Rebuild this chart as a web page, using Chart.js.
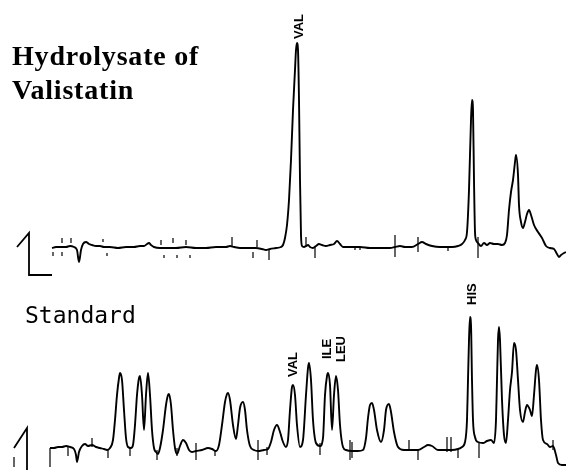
<!DOCTYPE html>
<html>
<head>
<meta charset="utf-8">
<script src="https://cdn.jsdelivr.net/npm/chart.js@4/dist/chart.umd.min.js"></script>
<style>
html,body{margin:0;padding:0;background:#fff;}
#wrap{width:566px;height:470px;position:relative;}
</style>
</head>
<body>
<div id="wrap"><canvas id="c" width="566" height="470"></canvas></div>
<script>
// ---- Data (retention time units, detector response units) ----
const topTime = [52,56,62,66,70,74,77,79,81,83,86,89,92,96,100,104,110,118,126,134,140,144,147,149,151,154,160,168,176,186,196,206,216,226,230,234,240,248,256,262,266,270,276,281,283,285,287,289,291,293,295,296,297,298,299,300,301,302,304,306,308,310,313,316,319,322,326,330,334,337,340,343,350,360,370,380,390,395,400,405,412,418,422,426,432,440,446,452,458,462,465,467,469,471,472,473,474,475,476,478,481,484,487,490,494,498,502,505,507,509,511,513,515,516,518,519,521,523,525,527,529,531,534,538,542,546,550,554,557,559,561,564,566];
const topSignal = [222,223,223,223,224,223,220,208,220,226,228,226,225,224,224,223,223,222,223,223,224,224,226,227,225,223,222,222,222,223,222,222,223,223,224,223,222,222,222,221,220,221,222,223,225,232,245,270,310,360,400,420,427,420,370,290,235,224,223,224,225,223,222,224,226,225,224,225,226,229,226,223,223,223,222,222,222,223,224,223,223,226,228,226,224,223,223,223,224,226,230,238,280,350,370,360,290,238,230,227,224,227,225,227,226,226,225,227,235,260,278,290,308,315,295,265,248,242,248,256,260,255,245,238,232,224,222,221,216,213,215,217,218];

const stdTime = [50,54,58,62,66,70,74,76,77,79,82,85,88,92,96,100,104,107,110,113,115,117,119,120,122,124,126,128,131,133,135,137,139,140,142,144,146,148,150,152,154,156,158,160,163,166,168,169,171,173,175,177,180,183,186,189,192,196,202,208,212,216,219,222,225,227,228,230,233,236,238,240,243,245,247,250,254,258,264,268,271,274,277,280,283,286,288,290,292,293,295,297,300,303,306,308,309,311,313,316,320,323,325,327,328,330,332,334,336,338,340,343,346,352,358,363,366,368,370,372,374,377,381,384,386,389,391,394,398,404,410,418,424,428,432,438,446,452,458,462,465,467,468,469,470,471,472,473,475,478,483,487,491,494,496,497,498,499,500,502,504,506,508,510,512,514,516,518,520,523,525,527,530,532,534,536,537,539,541,543,547,550,553,556,558,562,566];
const stdSignal = [22,22,23,23,24,23,21,15,8,18,24,26,24,25,23,22,21,20,22,30,50,75,92,97,90,60,32,23,22,25,45,75,92,94,75,40,75,97,75,40,22,18,16,22,40,65,75,76,65,40,22,16,24,30,27,20,18,19,20,22,21,19,25,45,68,76,77,70,45,31,45,62,68,60,40,24,20,19,20,21,28,40,45,38,28,23,30,60,83,85,75,45,23,30,75,102,107,90,50,27,24,32,75,94,97,85,40,75,94,80,45,23,20,19,19,20,32,52,65,67,60,40,28,40,60,66,58,38,23,20,20,20,23,25,24,20,20,20,21,23,28,50,90,130,153,145,90,50,33,28,27,29,30,27,50,90,130,143,130,70,35,27,50,80,98,127,120,90,60,48,58,65,60,54,75,100,105,90,50,30,26,23,24,15,7,5,5];

// integration tick marks: time, low, high
const topTickTime = [53,62,62,71,103,107,161,164,173,177,186,190,232,253,257,269,306,315,355,360,395,418,448,478];
const topTickLow  = [214,227,214,227,228,214,225,212,227,212,225,212,223,212,223,210,223,212,220,220,213,218,219,212];
const topTickHigh = [218,232,218,232,231,217,230,215,232,215,230,215,233,218,230,220,233,223,223,223,235,233,223,233];

const stdTickTime = [14,50,68,92,108,130,157,177,196,215,258,267,320,350,352,409,418,447,451,458,479,553];
const stdTickLow  = [3,3,14,23,12,14,10,14,10,14,10,15,15,10,12,20,10,18,18,12,12,20];
const stdTickHigh = [13,22,23,32,21,22,20,22,27,20,30,23,27,30,28,30,20,33,33,22,27,30];

// scale (attenuation) markers
const topMarkerTime = [17,29,29,52];
const topMarkerSignal = [223,237,195,195];
const stdMarkerTime = [14,27,27];
const stdMarkerSignal = [22,42,0];

// peak labels
const topPeakNames = ['VAL'];
const topPeakTime = [299];
const topPeakSignal = [431];
const stdPeakNames = ['VAL','ILE','LEU','HIS'];
const stdPeakTime = [293.5,327,341,472];
const stdPeakSignal = [93,111,108,165];

const titleLines = ['Hydrolysate of','Valistatin'];
const stdTitle = 'Standard';

// ---- build datasets ----
const zip = (xs, ys) => xs.map((x, i) => ({x: x, y: ys[i]}));
function tickSegments(xs, lo, hi) {
  const out = [];
  xs.forEach((x, i) => { out.push({x: x, y: lo[i]}, {x: x, y: hi[i]}, {x: x, y: null}); });
  return out;
}

const lineBase = {type: 'line', borderColor: '#000', pointRadius: 0, fill: false, spanGaps: false};

const labelPlugin = {
  id: 'labels',
  afterDatasetsDraw(chart) {
    const ctx = chart.ctx;
    const xs = chart.scales.x, ys = chart.scales.y;
    ctx.save();
    ctx.fillStyle = '#000';
    ctx.font = 'bold 28px "Liberation Serif", serif';
    ctx.textBaseline = 'alphabetic';
    ctx.textAlign = 'left';
    if ('letterSpacing' in ctx) ctx.letterSpacing = '0.8px';
    ctx.fillText(titleLines[0], 12, 65);
    ctx.fillText(titleLines[1], 12, 99);
    if ('letterSpacing' in ctx) ctx.letterSpacing = '0px';
    ctx.font = '23px "DejaVu Sans Mono", monospace';
    ctx.fillText(stdTitle, 25, 323);
    ctx.font = 'bold 13px "Liberation Sans", Arial, sans-serif';
    ctx.textBaseline = 'middle';
    const drawPeak = (name, t, s) => {
      ctx.save();
      ctx.translate(xs.getPixelForValue(t), ys.getPixelForValue(s));
      ctx.rotate(-Math.PI / 2);
      ctx.fillText(name, 0, 0);
      ctx.restore();
    };
    topPeakNames.forEach((n, i) => drawPeak(n, topPeakTime[i], topPeakSignal[i]));
    stdPeakNames.forEach((n, i) => drawPeak(n, stdPeakTime[i], stdPeakSignal[i]));
    ctx.restore();
  }
};

new Chart(document.getElementById('c'), {
  type: 'line',
  data: {
    datasets: [
      Object.assign({}, lineBase, {label: 'Hydrolysate of Valistatin', data: zip(topTime, topSignal), borderWidth: 1.9, cubicInterpolationMode: 'monotone'}),
      Object.assign({}, lineBase, {label: 'Standard', data: zip(stdTime, stdSignal), borderWidth: 1.9, cubicInterpolationMode: 'monotone'}),
      Object.assign({}, lineBase, {label: 'ticks top', data: tickSegments(topTickTime, topTickLow, topTickHigh), borderWidth: 1.2, tension: 0}),
      Object.assign({}, lineBase, {label: 'ticks std', data: tickSegments(stdTickTime, stdTickLow, stdTickHigh), borderWidth: 1.2, tension: 0}),
      Object.assign({}, lineBase, {label: 'marker top', data: zip(topMarkerTime, topMarkerSignal), borderWidth: 1.8, tension: 0}),
      Object.assign({}, lineBase, {label: 'marker std', data: zip(stdMarkerTime, stdMarkerSignal), borderWidth: 1.8, tension: 0})
    ]
  },
  options: {
    responsive: false,
    animation: false,
    devicePixelRatio: 1,
    layout: {padding: 0},
    plugins: {legend: {display: false}, tooltip: {enabled: false}, title: {display: false}},
    scales: {
      x: {type: 'linear', min: 0, max: 566, display: false, offset: false},
      y: {type: 'linear', min: 0, max: 470, display: false}
    }
  },
  plugins: [labelPlugin]
});
</script>
</body>
</html>
